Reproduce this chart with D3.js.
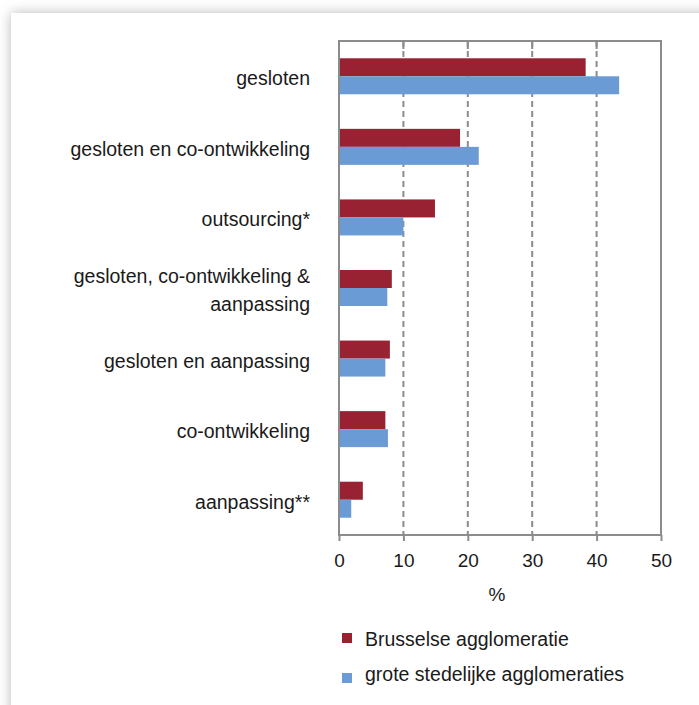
<!doctype html>
<html>
<head>
<meta charset="utf-8">
<title>Innovatie - Brussel vs grote steden</title>
<style type="text/css">
  body { margin: 0; background: #fff; overflow: hidden; }
  #card {
    position: absolute; left: 11px; top: 13px;
    width: 760px; height: 760px;
    background: #fff;
    box-shadow: 0 0 12px rgba(0,0,0,0.28);
  }
  svg { position: absolute; left: 0; top: 0; font-family: "Liberation Sans", Arial, sans-serif; }
</style>
</head>
<body>
<div id="card"></div>
<div id="my_dataviz"></div>

<script src="https://d3js.org/d3.v7.js"></script>
<script>
const categories = ["gesloten", "gesloten en co-ontwikkeling", "outsourcing*",
  "gesloten, co-ontwikkeling & aanpassing", "gesloten en aanpassing", "co-ontwikkeling", "aanpassing**"];
// labels with a line break
const labelLines = [["gesloten"], ["gesloten en co-ontwikkeling"], ["outsourcing*"],
  ["gesloten, co-ontwikkeling &", "aanpassing"], ["gesloten en aanpassing"], ["co-ontwikkeling"], ["aanpassing**"]];
const series = ["Brusselse agglomeratie", "grote stedelijke agglomeraties"];
const brussel = [38.3, 18.8, 14.9, 8.2, 7.9, 7.2, 3.7];
const groteSteden = [43.5, 21.7, 10.0, 7.5, 7.2, 7.6, 1.9];
const xTicks = [0, 10, 20, 30, 40, 50];
const colors = ["#992232", "#6b9bd5"];

var W = 699, H = 705;
var pLeft = 339, pRight = 661, pTop = 41, pBottom = 535;

var svg = d3.select("#my_dataviz").append("svg")
  .attr("width", W).attr("height", H);

var x = d3.scaleLinear().domain([0, 50]).range([pLeft, pRight]);
var y = d3.scaleBand().domain(categories).range([pTop, pBottom]).padding(0);
var yInner = d3.scaleBand().domain(series).range([0, y.bandwidth()])
  .paddingInner(0).paddingOuter(0.96);
var color = d3.scaleOrdinal().domain(series).range(colors);

var rows = categories.map(function(c, i) {
  return { cat: c, values: [brussel[i], groteSteden[i]] };
});

// dashed gridlines
svg.append("g").selectAll("line")
  .data(xTicks.slice(1, -1))
  .enter().append("line")
  .attr("x1", d => x(d)).attr("x2", d => x(d))
  .attr("y1", pTop).attr("y2", pBottom)
  .attr("stroke", "#8c8c8c").attr("stroke-width", 2)
  .attr("stroke-dasharray", "6,4");

// bars
svg.append("g").selectAll("g")
  .data(rows)
  .enter().append("g")
  .attr("transform", d => "translate(0," + y(d.cat) + ")")
  .selectAll("rect")
  .data(d => d.values.map((v, j) => ({ key: series[j], value: v })))
  .enter().append("rect")
  .attr("x", x(0))
  .attr("y", d => yInner(d.key))
  .attr("width", d => x(d.value) - x(0))
  .attr("height", yInner.bandwidth())
  .attr("fill", d => color(d.key));

// frame
svg.append("rect")
  .attr("x", pLeft).attr("y", pTop)
  .attr("width", pRight - pLeft).attr("height", pBottom - pTop)
  .attr("fill", "none").attr("stroke", "#8c8c8c").attr("stroke-width", 2);

// top ticks (inward)
svg.append("g").selectAll("line")
  .data(xTicks.slice(1, -1))
  .enter().append("line")
  .attr("x1", d => x(d)).attr("x2", d => x(d))
  .attr("y1", pTop).attr("y2", pTop + 8)
  .attr("stroke", "#8c8c8c").attr("stroke-width", 2);

// bottom axis
var xAxis = svg.append("g")
  .attr("transform", "translate(0," + pBottom + ")")
  .call(d3.axisBottom(x).tickValues(xTicks).tickSize(6).tickPadding(13));
xAxis.select(".domain").remove();
xAxis.selectAll(".tick line").attr("stroke", "#8c8c8c").attr("stroke-width", 2);
xAxis.selectAll(".tick text")
  .style("font-family", "'Liberation Sans', Arial, sans-serif")
  .style("font-size", "19px").attr("fill", "#1a1a1a");

svg.append("text")
  .attr("x", (pLeft + pRight) / 2 - 3).attr("y", 601)
  .attr("text-anchor", "middle")
  .style("font-size", "19px").attr("fill", "#1a1a1a")
  .text("%");

// category labels
var lab = svg.append("g").selectAll("text")
  .data(categories)
  .enter().append("text")
  .attr("text-anchor", "end")
  .style("font-size", "19.5px").attr("fill", "#1a1a1a")
  .attr("transform", d => "translate(310," + (y(d) + y.bandwidth() / 2) + ")");
lab.each(function(d, i) {
  var node = d3.select(this);
  var lines = labelLines[i];
  var lh = 28;
  var off = 9 - (lines.length - 1) * lh / 2;
  lines.forEach(function(t, k) {
    node.append("tspan").attr("x", 0).attr("y", off + k * lh).text(t);
  });
});

// legend
var legend = svg.append("g").selectAll("g")
  .data(series)
  .enter().append("g");
legend.append("rect")
  .attr("x", 342).attr("y", (d, i) => 633 + i * 40)
  .attr("width", 10).attr("height", 10)
  .attr("fill", d => color(d));
legend.append("text")
  .attr("x", 365).attr("y", (d, i) => 646 + i * 35)
  .style("font-size", "19.5px").attr("fill", "#1a1a1a")
  .text(d => d);
</script>
</body>
</html>
